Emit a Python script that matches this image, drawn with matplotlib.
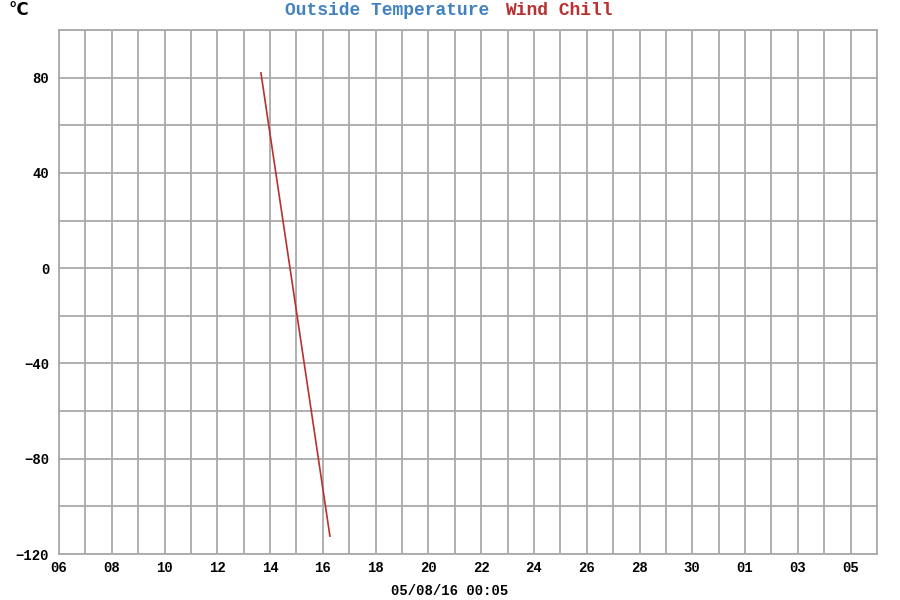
import numpy as np
import pandas as pd
import matplotlib
matplotlib.use("Agg")
from matplotlib import pyplot as plt
import matplotlib.dates as mdates

# wind chill readings (only series with data in the window)
chill_time = pd.to_datetime(["2016-07-13 15:40", "2016-07-16 06:25"])
chill_vals = [82, -112.5]

x_start = pd.Timestamp("2016-07-06")
x_end = pd.Timestamp("2016-08-06")
y_ticks = [-120, -80, -40, 0, 40, 80]
y_min, y_max = -120, 100

blue = "#4282c0"
red = "#b83030"
grid_c = "#aaaaaa"
mono = "Liberation Mono"


def main():
    fig = plt.figure(figsize=(9, 6), dpi=100)
    ax = fig.add_axes([59/900, 1-554/600, (877-59)/900, (554-30)/600])

    ax.plot(chill_time, chill_vals, color=red, lw=1.2)

    ax.set_xlim(x_start, x_end)
    ax.set_ylim(y_min, y_max)

    days = pd.date_range(x_start, x_end, freq="D")
    ax.set_xticks(days, minor=True)
    ax.set_xticks(days[::2])
    ax.xaxis.set_major_formatter(mdates.DateFormatter("%d"))
    ax.set_yticks(y_ticks)
    ax.set_yticks(np.arange(y_min, y_max + 1, 20), minor=True)

    ax.grid(True, which="both", color=grid_c, lw=1.3)
    ax.set_axisbelow(True)
    for s in ax.spines.values():
        s.set_color(grid_c)
        s.set_linewidth(1.3)
    ax.tick_params(which="both", length=0)
    ax.tick_params(axis="x", pad=5)
    ax.tick_params(axis="y", pad=7)
    for lab in ax.get_xticklabels() + ax.get_yticklabels():
        lab.set_fontfamily(mono)
        lab.set_fontweight("bold")
        lab.set_fontsize(10)

    fig.text(0.009, 0.983, "°C", fontsize=12, fontweight="bold", va="center", ha="left")
    fig.text(285/900, 0.983, "Outside Temperature", color=blue, fontsize=13,
             fontfamily=mono, fontweight="bold", ha="left", va="center")
    fig.text(505/900, 0.983, "Wind Chill", color=red, fontsize=13,
             fontfamily=mono, fontweight="bold", ha="left", va="center")
    fig.text(0.5, 0.015, "05/08/16 00:05", fontsize=10, fontfamily=mono,
             fontweight="bold", ha="center", va="center")

    fig.savefig("out.png", dpi=100)


if __name__ == "__main__":
    main()
